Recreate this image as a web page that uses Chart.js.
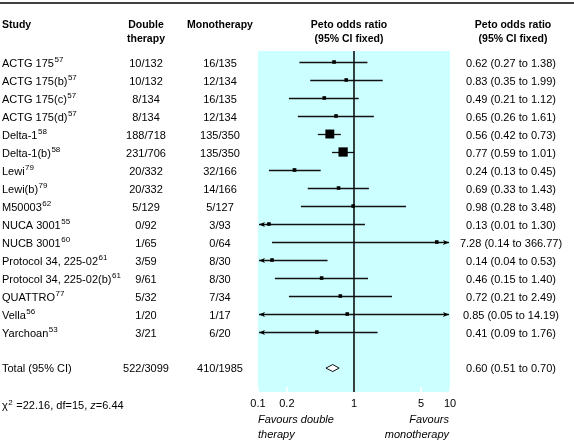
<!DOCTYPE html>
<html lang="en">
<head>
<meta charset="UTF-8">
<title>Peto odds ratio - double therapy vs monotherapy</title>
<script src="https://cdn.jsdelivr.net/npm/chart.js@4.4.1/dist/chart.umd.min.js"></script>
<style>
    body { margin: 0; background: #fff; }
    #forest { display: block; }
</style>
</head>
<body>
<canvas id="forest" width="574" height="442"></canvas>
<script>
// study rows
const studies = ['ACTG 175', 'ACTG 175(b)', 'ACTG 175(c)', 'ACTG 175(d)', 'Delta-1', 'Delta-1(b)', 'Lewi', 'Lewi(b)',
    'M50003', 'NUCA 3001', 'NUCB 3001', 'Protocol 34, 225-02', 'Protocol 34, 225-02(b)', 'QUATTRO', 'Vella', 'Yarchoan'];
const refs = ['57', '57', '57', '57', '58', '58', '79', '79', '62', '55', '60', '61', '61', '77', '56', '53'];
const doubleTherapy = ['10/132', '10/132', '8/134', '8/134', '188/718', '231/706', '20/332', '20/332',
    '5/129', '0/92', '1/65', '3/59', '9/61', '5/32', '1/20', '3/21'];
const monotherapy = ['16/135', '12/134', '16/135', '12/134', '135/350', '135/350', '32/166', '14/166',
    '5/127', '3/93', '0/64', '8/30', '8/30', '7/34', '1/17', '6/20'];
const oddsRatio = [0.62, 0.83, 0.49, 0.65, 0.56, 0.77, 0.24, 0.69, 0.98, 0.13, 7.28, 0.14, 0.46, 0.72, 0.85, 0.41];
const ciLow = [0.27, 0.35, 0.21, 0.26, 0.42, 0.59, 0.13, 0.33, 0.28, 0.01, 0.14, 0.04, 0.15, 0.21, 0.05, 0.09];
const ciHigh = [1.38, 1.99, 1.12, 1.61, 0.73, 1.01, 0.45, 1.43, 3.48, 1.30, 366.77, 0.53, 1.40, 2.49, 14.19, 1.76];
// weight (%)
const weights = [3.5, 3.4, 3.3, 3.0, 26, 28, 4.5, 2.9, 1.4, 0.5, 0.2, 1.5, 1.7, 1.6, 0.3, 1.1];

// pooled result
const totalLabel = 'Total (95% CI)';
const totalDouble = '522/3099';
const totalMono = '410/1985';
const totalOr = [0.60, 0.51, 0.70]; // estimate, low, high

const xTicks = [0.1, 0.2, 1, 5, 10];

const totalRow = studies.length + 1;
const FONT = "11px 'Liberation Sans', Arial, sans-serif";
const BOLD = "bold 10.5px 'Liberation Sans', Arial, sans-serif";
const ITAL = "italic 11px 'Liberation Sans', Arial, sans-serif";
const SUP = "8px 'Liberation Sans', Arial, sans-serif";

function boxSide(w) {
    return Math.max(3.6, 1.75 * Math.sqrt(w));
}

function textSup(ctx, x, y, main, sup) {
    ctx.font = FONT;
    ctx.textAlign = 'left';
    ctx.fillText(main, x, y);
    const w = ctx.measureText(main).width;
    ctx.font = SUP;
    ctx.fillText(sup, x + w + 0.5, y - 3.5);
}

function arrow(ctx, tip, py, dir) {
    ctx.beginPath();
    ctx.moveTo(tip, py);
    ctx.lineTo(tip - dir * 6, py - 2.5);
    ctx.lineTo(tip - dir * 4.5, py);
    ctx.lineTo(tip - dir * 6, py + 2.5);
    ctx.closePath();
    ctx.fill();
}

const forestPlugin = {
    id: 'forest',
    beforeDatasetsDraw(chart) {
        const ctx = chart.ctx, a = chart.chartArea;
        const x = chart.scales.x, y = chart.scales.y;
        ctx.save();
        // panel
        ctx.fillStyle = '#ccffff';
        ctx.fillRect(a.left, a.top, a.right - a.left, a.bottom - a.top);
        // little white ticks inside the panel
        ctx.strokeStyle = '#fff';
        ctx.lineWidth = 1.5;
        xTicks.forEach(v => {
            const px = x.getPixelForValue(v);
            ctx.beginPath();
            ctx.moveTo(px, a.bottom - 5);
            ctx.lineTo(px, a.bottom);
            ctx.stroke();
        });
        // line of no effect
        const p1 = x.getPixelForValue(1);
        ctx.strokeStyle = '#000';
        ctx.lineWidth = 1.5;
        ctx.beginPath();
        ctx.moveTo(p1, a.top);
        ctx.lineTo(p1, a.bottom);
        ctx.stroke();
        // confidence intervals
        ctx.lineWidth = 1.3;
        ctx.strokeStyle = '#111';
        ctx.fillStyle = '#000';
        oddsRatio.forEach((v, i) => {
            const py = Math.round(y.getPixelForValue(i)) + 0.5;
            const lowClip = ciLow[i] < x.min, highClip = ciHigh[i] > x.max;
            const x0 = lowClip ? a.left + 1 : x.getPixelForValue(ciLow[i]);
            const x1 = highClip ? a.right - 1 : x.getPixelForValue(ciHigh[i]);
            ctx.beginPath();
            ctx.moveTo(x0, py);
            ctx.lineTo(x1, py);
            ctx.stroke();
            if (lowClip) arrow(ctx, x0, py, -1);
            if (highClip) arrow(ctx, x1, py, 1);
        });
        // pooled diamond
        const ty = y.getPixelForValue(totalRow);
        const dl = x.getPixelForValue(totalOr[1]), dm = x.getPixelForValue(totalOr[0]), dr = x.getPixelForValue(totalOr[2]);
        ctx.lineWidth = 1;
        ctx.beginPath();
        ctx.moveTo(dl, ty);
        ctx.lineTo(dm, ty - 3.5);
        ctx.lineTo(dr, ty);
        ctx.lineTo(dm, ty + 3.5);
        ctx.closePath();
        ctx.fillStyle = '#fff';
        ctx.fill();
        ctx.stroke();
        ctx.restore();
    },
    afterDraw(chart) {
        const ctx = chart.ctx, a = chart.chartArea, y = chart.scales.y;
        ctx.save();
        ctx.fillStyle = '#000';
        // top rule
        ctx.strokeStyle = '#000';
        ctx.lineWidth = 1.5;
        ctx.beginPath();
        ctx.moveTo(0, 3);
        ctx.lineTo(574, 3);
        ctx.stroke();
        // headers
        ctx.textBaseline = 'middle';
        ctx.font = BOLD;
        ctx.textAlign = 'left';
        ctx.fillText('Study', 2, 25);
        ctx.textAlign = 'center';
        ctx.fillText('Double', 146, 25);
        ctx.fillText('therapy', 146, 39);
        ctx.fillText('Monotherapy', 220, 25);
        ctx.fillText('Peto odds ratio', 349, 25);
        ctx.fillText('(95% CI fixed)', 349, 39);
        ctx.fillText('Peto odds ratio', 513, 25);
        ctx.fillText('(95% CI fixed)', 513, 39);
        // rows
        studies.forEach((s, i) => {
            const py = y.getPixelForValue(i) + 1.5;
            textSup(ctx, 2, py, s, refs[i]);
            ctx.font = FONT;
            ctx.textAlign = 'center';
            ctx.fillText(doubleTherapy[i], 146, py);
            ctx.fillText(monotherapy[i], 220, py);
            ctx.fillText(oddsRatio[i].toFixed(2) + ' (' + ciLow[i].toFixed(2) + ' to ' + ciHigh[i].toFixed(2) + ')', 511, py);
        });
        const ty = y.getPixelForValue(totalRow) + 1;
        ctx.font = FONT;
        ctx.textAlign = 'left';
        ctx.fillText(totalLabel, 2, ty);
        ctx.textAlign = 'center';
        ctx.fillText(totalDouble, 146, ty);
        ctx.fillText(totalMono, 220, ty);
        ctx.fillText(totalOr[0].toFixed(2) + ' (' + totalOr[1].toFixed(2) + ' to ' + totalOr[2].toFixed(2) + ')', 511, ty);
        // heterogeneity line
        ctx.textAlign = 'left';
        let cx = 2;
        const cy = 406;
        ctx.font = FONT;
        ctx.fillText('\u03c7', cx, cy); cx += ctx.measureText('\u03c7').width;
        ctx.font = SUP;
        ctx.fillText('2', cx + 0.5, cy - 3.5); cx += ctx.measureText('2').width + 1;
        ctx.font = FONT;
        ctx.fillText(' =22.16, df=15, ', cx, cy); cx += ctx.measureText(' =22.16, df=15, ').width;
        ctx.font = ITAL;
        ctx.fillText('z', cx, cy); cx += ctx.measureText('z').width;
        ctx.font = FONT;
        ctx.fillText('=6.44', cx, cy);
        // favours labels
        ctx.font = ITAL;
        ctx.fillText('Favours double', a.left, 420);
        ctx.fillText('therapy', a.left, 435);
        ctx.textAlign = 'right';
        ctx.fillText('Favours', a.right - 1, 420);
        ctx.fillText('monotherapy', a.right - 1, 435);
        ctx.restore();
    }
};

new Chart(document.getElementById('forest'), {
    type: 'scatter',
    data: {
        datasets: [{
            data: oddsRatio.map((v, i) => ({ x: v, y: i })),
            pointStyle: 'rect',
            pointRadius: weights.map(w => boxSide(w) / Math.SQRT2),
            pointHoverRadius: weights.map(w => boxSide(w) / Math.SQRT2),
            backgroundColor: '#000',
            borderWidth: 0
        }]
    },
    options: {
        responsive: false,
        animation: false,
        events: [],
        layout: { autoPadding: false, padding: { left: 258, right: 124, top: 51, bottom: 28 } },
        plugins: { legend: { display: false }, tooltip: { enabled: false } },
        scales: {
            x: {
                type: 'logarithmic',
                min: 0.1,
                max: 10,
                afterBuildTicks: s => { s.ticks = xTicks.map(v => ({ value: v })); },
                afterFit: s => { s.height = 22; },
                ticks: {
                    autoSkip: false,
                    maxRotation: 0,
                    padding: 5,
                    color: '#000',
                    font: { family: "'Liberation Sans', Arial, sans-serif", size: 11 },
                    callback: v => String(v)
                },
                grid: { display: false, drawTicks: false },
                border: { display: false }
            },
            y: {
                type: 'linear',
                reverse: true,
                min: -0.61,
                max: 18.33,
                display: false
            }
        }
    },
    plugins: [forestPlugin]
});
</script>
</body>
</html>
